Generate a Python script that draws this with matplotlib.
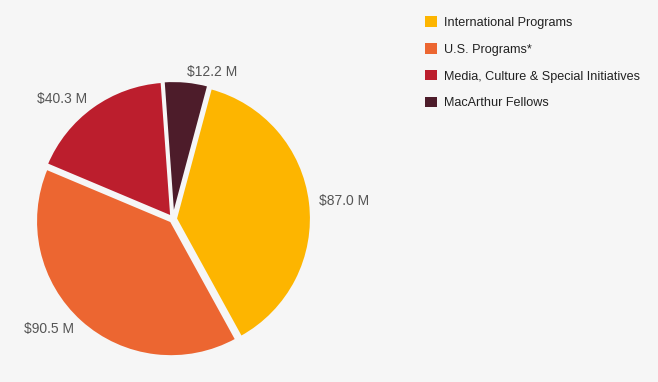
import matplotlib.pyplot as plt
from matplotlib.patches import Patch

plt.rcParams['font.family'] = ['Liberation Sans', 'DejaVu Sans']

labels = ['International Programs', 'U.S. Programs*',
          'Media, Culture & Special Initiatives', 'MacArthur Fellows']
values = [87.0, 90.5, 40.3, 12.2]
value_labels = ['$87.0 M', '$90.5 M', '$40.3 M', '$12.2 M']
colors = ['#FDB500', '#EC6631', '#BC1E2D', '#4D1C2A']

bg = '#f6f6f6'
fig = plt.figure(figsize=(6.58, 3.82), dpi=100, facecolor=bg)

W, H = 658, 382
r_px = 135
cx, cy = 173, 219
lim = 1.3
half = r_px * lim
ax = fig.add_axes([(cx - half) / W, (H - cy - half) / H, 2 * half / W, 2 * half / H])
ax.set_facecolor(bg)

wedges, texts = ax.pie(values, labels=value_labels, colors=colors,
                       startangle=75, counterclock=False,
                       explode=[0.022] * 4, labeldistance=1.07,
                       wedgeprops=dict(edgecolor=bg, linewidth=1.5),
                       textprops=dict(color='#555555', fontsize=10))
ax.set_xlim(-lim, lim)
ax.set_ylim(-lim, lim)
ax.set_aspect('equal')
ax.axis('off')

handles = [Patch(facecolor=c, edgecolor='none') for c in colors]
fig.legend(handles, labels, loc='upper left', bbox_to_anchor=(414 / W, 1 - 5 / H),
           frameon=False, handlelength=0.9, handleheight=0.9, handletextpad=0.55,
           labelspacing=1.12, prop=dict(size=9.1), labelcolor='#222222')

fig.savefig('out.png', dpi=100, facecolor=bg)
